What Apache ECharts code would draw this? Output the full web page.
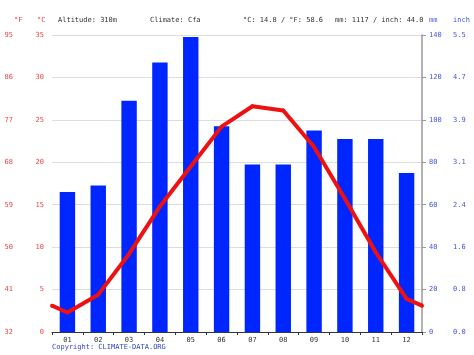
<!DOCTYPE html>
<html><head><meta charset="utf-8">
<script src="https://cdn.jsdelivr.net/npm/echarts@6/dist/echarts.min.js"></script>
<style>html,body{margin:0;padding:0;background:#fff}#c{width:474px;height:355px}</style>
</head><body><div id="c"></div>
<script>
// ---- data ----
const months = ['01','02','03','04','05','06','07','08','09','10','11','12'];
const precipMm = [66, 69, 109, 127, 139, 97, 79, 79, 95, 91, 91, 75];
const tempC = [2.3, 4.4, 9.2, 14.8, 19.5, 24.2, 26.6, 26.1, 21.8, 15.7, 9.4, 3.9];
const fahrenheitTicks = ['32','41','50','59','68','77','86','95'];
const inchTicks = ['0.0','0.8','1.6','2.4','3.1','3.9','4.7','5.5'];
const headerAltitude = 'Altitude: 310m';
const headerClimate = 'Climate: Cfa';
const headerTemp = '°C: 14.8 / °F: 58.6';
const headerPrecip = 'mm: 1117 / inch: 44.0';
const copyright = 'Copyright: CLIMATE-DATA.ORG';

// cyclic line: wrap December/January to the plot edges
const edge = (tempC[0] + tempC[tempC.length - 1]) / 2;
const lineData = [[-0.5, edge]].concat(tempC.map((v, i) => [i, v])).concat([[tempC.length - 0.5, edge]]);

const FONT = 'DejaVu Sans Mono';
const RED = '#ee4444';
const BLUE = '#4455dd';
const FS = 7;

const chart = echarts.init(document.getElementById('c'), null, {renderer: 'canvas'});
const txt = (x, text, color) => ({type: 'text', left: x, top: 17, style: {text, fill: color, font: FS + 'px "' + FONT + '"'}});
chart.setOption({
  animation: false,
  grid: {left: 52, right: 52, top: 35, bottom: 23},
  xAxis: [
    {type: 'category', data: months, boundaryGap: true,
     axisLine: {lineStyle: {color: '#334', width: 1}},
     axisTick: {show: true, length: 3, lineStyle: {color: '#334'}},
     axisLabel: {color: '#333', fontFamily: FONT, fontSize: FS, margin: 5}},
    {type: 'value', min: -0.5, max: tempC.length - 0.5, show: false}
  ],
  yAxis: [
    {type: 'value', min: 0, max: 35, interval: 5, position: 'left',
     axisLine: {show: false}, axisTick: {show: false},
     splitLine: {show: true, lineStyle: {color: '#dddddd'}},
     axisLabel: {color: RED, fontFamily: FONT, fontSize: FS, margin: 8}},
    {type: 'value', min: 0, max: 35, interval: 5, position: 'left', offset: 31,
     axisLine: {show: false}, axisTick: {show: false}, splitLine: {show: false},
     axisLabel: {color: RED, fontFamily: FONT, fontSize: FS, margin: 8,
       formatter: (v) => fahrenheitTicks[Math.round(v / 5)]}},
    {type: 'value', min: 0, max: 140, interval: 20, position: 'right',
     axisLine: {show: true, lineStyle: {color: '#999', width: 1.5}},
     axisTick: {show: true, length: 4, lineStyle: {color: '#999'}},
     splitLine: {show: false},
     axisLabel: {color: BLUE, fontFamily: FONT, fontSize: FS, margin: 7}},
    {type: 'value', min: 0, max: 140, interval: 20, position: 'right', offset: 24,
     axisLine: {show: false}, axisTick: {show: false}, splitLine: {show: false},
     axisLabel: {color: BLUE, fontFamily: FONT, fontSize: FS, margin: 7,
       formatter: (v) => inchTicks[Math.round(v / 20)]}}
  ],
  series: [
    {type: 'bar', data: precipMm, xAxisIndex: 0, yAxisIndex: 2, barWidth: '50%',
     itemStyle: {color: '#0026ff'}},
    {type: 'line', data: lineData, xAxisIndex: 1, yAxisIndex: 0,
     lineStyle: {color: '#ee1111', width: 4}, itemStyle: {color: '#ee1111'},
     symbol: 'circle', symbolSize: 4, showSymbol: true, z: 5}
  ],
  graphic: [
    txt(14, '°F', RED), txt(37, '°C', RED),
    txt(58, headerAltitude, '#333'), txt(150, headerClimate, '#333'),
    txt(243, headerTemp, '#333'), txt(335, headerPrecip, '#333'),
    txt(429, 'mm', BLUE), txt(453, 'inch', BLUE),
    {type: 'text', left: 52, top: 344, style: {text: copyright, fill: '#3344cc', font: FS + 'px "' + FONT + '"'}}
  ]
});
</script></body></html>
